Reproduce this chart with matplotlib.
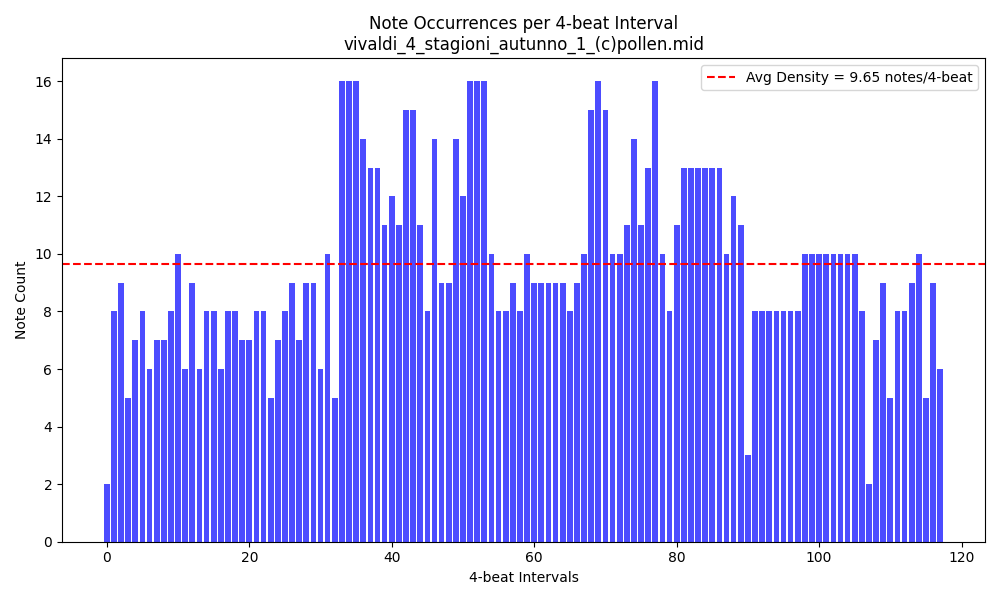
import matplotlib
matplotlib.use("Agg")
import matplotlib.pyplot as plt
import numpy as np

counts = [2, 8, 9, 5, 7, 8, 6, 7, 7, 8,
          10, 6, 9, 6, 8, 8, 6, 8, 8, 7,
          7, 8, 8, 5, 7, 8, 9, 7, 9, 9,
          6, 10, 5, 16, 16, 16, 14, 13, 13, 11,
          12, 11, 15, 15, 11, 8, 14, 9, 9, 14,
          12, 16, 16, 16, 10, 8, 8, 9, 8, 10,
          9, 9, 9, 9, 9, 8, 9, 10, 15, 16,
          15, 10, 10, 11, 14, 11, 13, 16, 10, 8,
          11, 13, 13, 13, 13, 13, 13, 10, 12, 11,
          3, 8, 8, 8, 8, 8, 8, 8, 10, 10,
          10, 10, 10, 10, 10, 10, 8, 2, 7, 9,
          5, 8, 8, 9, 10, 5, 9, 6]
intervals = list(range(len(counts)))
avg_density = 9.65

fig, ax = plt.subplots(figsize=(10, 6), dpi=100)
ax.bar(intervals, counts, color="blue", alpha=0.7)
ax.axhline(avg_density, color="red", linestyle="--",
           label=f"Avg Density = {avg_density:.2f} notes/4-beat")
ax.set_title("Note Occurrences per 4-beat Interval\nvivaldi_4_stagioni_autunno_1_(c)pollen.mid")
ax.set_xlabel("4-beat Intervals")
ax.set_ylabel("Note Count")
ax.legend(loc="upper right")
fig.tight_layout()
fig.savefig("out.png")
